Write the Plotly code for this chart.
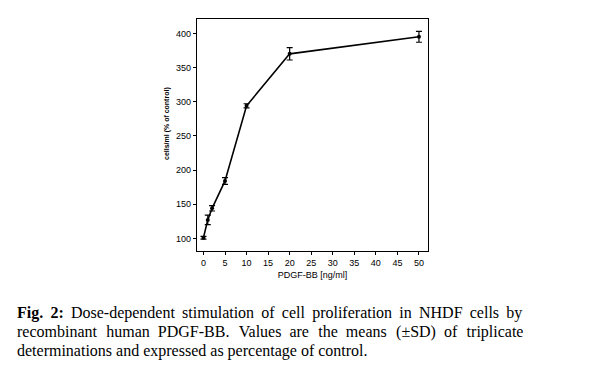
import plotly.graph_objects as go

dose = [0, 1, 2, 5, 10, 20, 50]
cells = [101, 127, 144, 184, 294, 370, 395]
sd = [2, 7, 4, 5, 3, 9, 8]

x_ticks = [0, 5, 10, 15, 20, 25, 30, 35, 40, 45, 50]
y_ticks = [100, 150, 200, 250, 300, 350, 400]

caption_words = [
    ["<b>Fig.</b>", "<b>2:</b>", "Dose-dependent", "stimulation", "of", "cell", "proliferation", "in", "NHDF", "cells", "by"],
    ["recombinant", "human", "PDGF-BB.", "Values", "are", "the", "means", "(±SD)", "of", "triplicate"],
    ["determinations", "and", "expressed", "as", "percentage", "of", "control."],
]


def join_line(words, i):
    # approximate justification of the first two lines with extra thin spaces
    if i == 0:
        return " \u2009".join(words)
    if i == 1:
        out = words[0]
        for k, w in enumerate(words[1:]):
            out += (" \u00a0\u200a" if k % 2 == 0 else " \u00a0") + w
        return out
    return " ".join(words)


fig = go.Figure()
fig.add_trace(go.Scatter(
    x=dose, y=cells,
    mode="lines+markers",
    line=dict(color="black", width=1.6),
    marker=dict(color="black", size=4),
    error_y=dict(type="data", array=sd, visible=True, color="black", thickness=1.2, width=3),
    showlegend=False,
))

axis_font = dict(family="Liberation Sans, Arial, sans-serif", size=9, color="black")

# body has 8px default margin -> offset margins
L, T, PW, PH = 189, 11, 231, 232
fig.update_layout(
    width=598, height=376,
    margin=dict(l=L, r=598 - L - PW, t=T, b=376 - T - PH),
    paper_bgcolor="white", plot_bgcolor="white",
    xaxis=dict(
        range=[-1.5, 52.1], tickvals=x_ticks, ticks="outside", ticklen=3,
        tickcolor="black", showline=True, linecolor="black", linewidth=1.2, mirror=True,
        showgrid=False, zeroline=False, tickfont=axis_font,
        title=dict(text="PDGF-BB [ng/ml]", font=axis_font, standoff=4),
    ),
    yaxis=dict(
        range=[81.5, 421], tickvals=y_ticks, ticks="outside", ticklen=3,
        tickcolor="black", showline=True, linecolor="black", linewidth=1.2, mirror=True,
        showgrid=False, zeroline=False, tickfont=axis_font,
    ),
)

# y-axis title (sits a little above the plot centre in the reference)
fig.add_annotation(
    text="<b>cells/ml (% of control)</b>", textangle=-90,
    xref="paper", yref="paper", x=(167 - 197) / PW, y=(251 - 124) / PH,
    xanchor="center", yanchor="middle", showarrow=False,
    font=dict(family="Liberation Sans, Arial, sans-serif", size=7, color="black"),
)

for i, words in enumerate(caption_words):
    fig.add_annotation(
        text=join_line(words, i), xref="paper", yref="paper", x=(15 - 197) / PW, y=1,
        yshift=-282.5 - i * 19, xanchor="left", yanchor="top",
        showarrow=False, align="left",
        font=dict(family="Liberation Serif, Times New Roman, serif", size=16, color="black"),
    )

fig.write_html("out.html")
